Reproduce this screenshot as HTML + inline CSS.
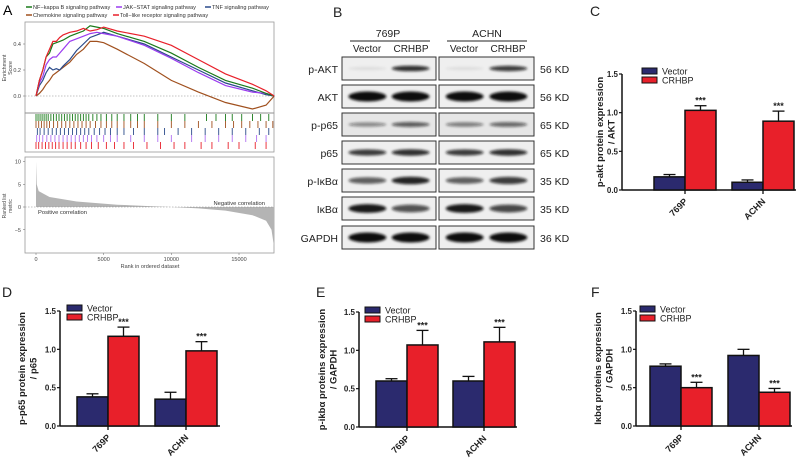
<!DOCTYPE html>
<html><head><meta charset="utf-8"><style>
html,body{margin:0;padding:0;background:#fff;}
svg{display:block;font-family:"Liberation Sans",Arial,sans-serif;}
</style></head><body>
<svg id="fig" width="796" height="463" viewBox="0 0 796 463" xmlns="http://www.w3.org/2000/svg">
<defs><filter id="blur" x="-20%" y="-100%" width="140%" height="300%"><feGaussianBlur stdDeviation="1.2"/></filter></defs>
<g id="panelA"></g>
<g id="panelB"></g>
<g id="bars"></g>
</svg>
<script>
// ---------- Panel A data ----------
const esRanks = [0,250,500,750,1000,1250,1500,1750,2000,2500,3000,3500,4000,4500,5000,6000,8000,10000,12000,14000,16000,17000,17600];
const esNFkB = [0,0.12,0.2,0.3,0.33,0.4,0.41,0.42,0.43,0.46,0.48,0.5,0.54,0.53,0.52,0.48,0.42,0.33,0.22,0.12,0.06,0.02,0];
const esChemokine = [0,0.02,0.05,0.09,0.12,0.16,0.18,0.2,0.22,0.26,0.32,0.36,0.42,0.42,0.41,0.36,0.25,0.12,0.03,-0.05,-0.1,-0.07,0];
const esTNF = [0,0.08,0.12,0.18,0.22,0.2,0.21,0.2,0.23,0.28,0.35,0.4,0.45,0.47,0.49,0.46,0.4,0.3,0.2,0.1,0.04,0.01,0];
const esJAK = [0,0.1,0.15,0.24,0.28,0.3,0.3,0.33,0.36,0.42,0.44,0.46,0.48,0.49,0.48,0.46,0.39,0.29,0.18,0.08,0.03,0.02,0];
const esToll = [0,0.12,0.2,0.3,0.36,0.42,0.42,0.45,0.47,0.49,0.5,0.52,0.5,0.51,0.53,0.5,0.46,0.39,0.28,0.17,0.09,0.04,0];
const hitsNFkB = [0,150,300,450,600,750,900,1100,1300,1500,1700,1900,2100,2300,2500,2700,2900,3100,3300,3500,3700,3900,4200,4500,4800,5200,5600,6000,6500,7000,7500,8000,9000,10000,11000,12600,13300,14000,14500,15200,16000,16600,17200];
const hitsChemokine = [0,200,400,600,800,1000,1300,1600,1900,2200,2500,2800,3100,3400,3700,4000,4400,4800,5200,5600,6000,6500,7000,7500,8000,9000,10000,11000,12000,13000,14000,14600,15200,15800,16400,17000,17500];
const hitsTNF = [100,300,600,900,1200,1500,1800,2100,2400,2700,3000,3300,3600,3900,4300,4700,5100,5500,6000,6500,7200,8000,9000,9500,10500,11500,12500,13500,14500,15500,16500,17200];
const hitsJAK = [50,250,500,800,1100,1400,1700,2000,2300,2600,2900,3200,3500,3800,4100,4500,5000,5500,6000,7000,8000,9000,10000,11500,12500,13500,14500,15500,16300,17000];
const hitsToll = [0,200,450,700,950,1200,1450,1700,2000,2300,2600,2900,3300,3700,4100,4600,5200,5800,6500,7200,8200,9200,10200,11000,12200,13000,14200,15000,16200,17000];
const rankX = [0,50,200,1000,3000,6000,9000,10000,12000,14000,16000,17000,17400,17600];
const rankMetric = [10,5,3.5,2.2,1.2,0.5,0.1,0,-0.3,-0.8,-1.8,-3,-5,-9];
const esTicks = [0.0,0.2,0.4];
const metricTicks = [-5,0,5,10];
const rankTicks = [0,5000,10000,15000];

// ---------- Bar data ----------
const groups = ["769P","ACHN"];
const yTicks = [0.0,0.5,1.0,1.5];
const cVector=[0.17,0.10], cVectorErr=[0.03,0.03], cCRHBP=[1.03,0.89], cCRHBPErr=[0.06,0.13];
const dVector=[0.38,0.35], dVectorErr=[0.04,0.09], dCRHBP=[1.17,0.98], dCRHBPErr=[0.12,0.12];
const eVector=[0.60,0.60], eVectorErr=[0.03,0.06], eCRHBP=[1.07,1.11], eCRHBPErr=[0.19,0.19];
const fVector=[0.78,0.92], fVectorErr=[0.03,0.08], fCRHBP=[0.50,0.44], fCRHBPErr=[0.07,0.05];

const NS="http://www.w3.org/2000/svg";
function mk(tag,attrs,parent,text){const e=document.createElementNS(NS,tag);for(const k in attrs)e.setAttribute(k,attrs[k]);if(text!==undefined)e.textContent=text;parent.appendChild(e);return e;}

// ---------- Panel A ----------
(function(){
const g=document.getElementById('panelA');
const xR=r=>36+r*(203/15000);
const yE=v=>96-v*130;
const yM=v=>207-v*4.55;
let t=mk('text',{x:3,y:15,'font-size':14},g,'A');

const leg=[["NF−kappa B signaling pathway","#1a7a1a",33,9],["JAK−STAT signaling pathway","#9b3cf0",123,9],["TNF signaling pathway","#2a4a8a",212,9],["Chemokine signaling pathway","#a0501e",33,17],["Toll−like receptor signaling pathway","#e8202a",120,17]];
leg.forEach(l=>{const lg=mk('g',{},g);
mk('line',{x1:l[2]-7,x2:l[2]-1,y1:l[3]-2,y2:l[3]-2,stroke:l[1],'stroke-width':1.5},lg);
mk('text',{x:l[2],y:l[3],'font-size':5.6,fill:'#333'},lg,l[0]);});
let b=mk('rect',{x:25,y:22,width:249,height:91,fill:'none',stroke:'#999','stroke-width':0.8},g);

mk('line',{x1:25,x2:274,y1:yE(0),y2:yE(0),stroke:'#888','stroke-dasharray':'1.5,1.5','stroke-width':0.6},g);
esTicks.forEach(v=>{mk('text',{x:21,y:yE(v)+2,'font-size':5.5,'text-anchor':'end',fill:'#444'},g,v.toFixed(1));mk('line',{x1:23,x2:25,y1:yE(v),y2:yE(v),stroke:'#666','stroke-width':0.5},g);});
t=mk('text',{transform:'translate(6,68) rotate(-90)','font-size':5.3,'text-anchor':'middle',fill:'#444'},g,'Enrichment');
mk('text',{transform:'translate(12,68) rotate(-90)','font-size':5.3,'text-anchor':'middle',fill:'#444'},g,'Score');
const series=[[esChemokine,'#a0501e','es-line-chemokine'],[esTNF,'#2a4a8a','es-line-tnf'],[esJAK,'#9b3cf0','es-line-jak-stat'],[esNFkB,'#1a7a1a','es-line-nfkb'],[esToll,'#e8202a','es-line-toll']];
series.forEach(s=>{const p=esRanks.map((r,i)=>(i?'L':'M')+xR(r).toFixed(1)+','+yE(s[0][i]).toFixed(1)).join('');
const e=mk('path',{d:p,fill:'none',stroke:s[1],'stroke-width':1.2},g);});
mk('line',{x1:25,x2:274,y1:113,y2:113,stroke:'#555','stroke-width':0.8},g);
mk('rect',{x:25,y:113,width:249,height:39,fill:'none',stroke:'#999','stroke-width':0.8},g);
const hits=[[hitsNFkB,'#1a7a1a',114],[hitsChemokine,'#a0501e',121],[hitsTNF,'#2a4a8a',128],[hitsJAK,'#b070f0',135],[hitsToll,'#e8202a',142]];
hits.forEach(h=>{const hg=mk('g',{},g);
h[0].forEach(r=>{mk('line',{x1:xR(r),x2:xR(r),y1:h[2],y2:h[2]+7,stroke:h[1],'stroke-width':0.9},hg);});});
b=mk('rect',{x:25,y:157,width:249,height:96,fill:'none',stroke:'#999','stroke-width':0.8},g);

let ap='M'+xR(0)+','+yM(0);rankX.forEach((r,i)=>{ap+='L'+xR(r).toFixed(1)+','+yM(rankMetric[i]).toFixed(1);});ap+='L'+xR(17600)+','+yM(0)+'Z';
const area=mk('path',{d:ap,fill:'#b4b4b4',stroke:'none'},g);
mk('line',{x1:25,x2:274,y1:yM(0),y2:yM(0),stroke:'#888','stroke-dasharray':'1.5,1.5','stroke-width':0.6},g);
metricTicks.forEach(v=>{mk('text',{x:21,y:yM(v)+2,'font-size':5.5,'text-anchor':'end',fill:'#444'},g,String(v).replace('-','−'));mk('line',{x1:23,x2:25,y1:yM(v),y2:yM(v),stroke:'#666','stroke-width':0.5},g);});
rankTicks.forEach(v=>{mk('text',{x:xR(v),y:261,'font-size':5.5,'text-anchor':'middle',fill:'#444'},g,String(v));mk('line',{x1:xR(v),x2:xR(v),y1:253,y2:255,stroke:'#666','stroke-width':0.5},g);});
t=mk('text',{x:150,y:268,'font-size':5.5,'text-anchor':'middle',fill:'#444'},g,'Rank in ordered dataset');
mk('text',{transform:'translate(6,206) rotate(-90)','font-size':5,'text-anchor':'middle',fill:'#444'},g,'Ranked list');
mk('text',{transform:'translate(12,206) rotate(-90)','font-size':5,'text-anchor':'middle',fill:'#444'},g,'metric');
mk('text',{x:38,y:214,'font-size':5.8,fill:'#333'},g,'Positive correlation');
mk('text',{x:265,y:205,'font-size':5.8,fill:'#333','text-anchor':'end'},g,'Negative correlation');
})();

// ---------- Panel B ----------
(function(){
const g=document.getElementById('panelB');
const tx=(x,y,s,txt,anc,name)=>{const e=mk('text',{x:x,y:y,'font-size':s,'text-anchor':anc||'middle',fill:'#222'},g,txt);if(name){}return e;};
tx(333,17,14,'B','start','panel-b-label');
tx(388,37,10.5,'769P','middle','cell-line-769p');tx(487,37,10.5,'ACHN','middle','cell-line-achn');
mk('line',{x1:350,x2:430,y1:41,y2:41,stroke:'#222','stroke-width':1},g);
mk('line',{x1:447,x2:527,y1:41,y2:41,stroke:'#222','stroke-width':1},g);
tx(367,52,10,'Vector');tx(411,52,10,'CRHBP');tx(464,52,10,'Vector');tx(508,52,10,'CRHBP');
const rows=[["p-AKT","56 KD",[0.08,0.85,0.08,0.8],3],["AKT","56 KD",[1,1,1,1],5],["p-p65","65 KD",[0.45,0.65,0.5,0.6],3],["p65","65 KD",[0.8,0.85,0.8,0.85],3.5],["p-IκBα","35 KD",[0.65,0.9,0.65,0.8],4],["IκBα","35 KD",[0.95,0.7,0.95,0.75],4.5],["GAPDH","36 KD",[1,1,1,1],5]];
const tops=[57,85,113,141,169,197,226];
rows.forEach((r,i)=>{const y=tops[i];const rg=mk('g',{},g);
mk('text',{x:338,y:y+16,'font-size':10.5,'text-anchor':'end',fill:'#222'},rg,r[0]);
mk('text',{x:540,y:y+16,'font-size':10.5,'text-anchor':'start',fill:'#222'},rg,r[1]);
[[342,94],[439,95]].forEach((bx,j)=>{mk('rect',{x:bx[0],y:y,width:bx[1],height:23,fill:i==2?'#e6e6e6':'#efefef',stroke:'#333','stroke-width':1},rg);
[0,1].forEach(k=>{const d=r[2][j*2+k];const cx=bx[0]+bx[1]*(k?0.73:0.27);
mk('ellipse',{cx:cx,cy:y+11.5,rx:19,ry:r[3]*(0.5+0.5*d),fill:'#111','fill-opacity':d,filter:'url(#blur)'},rg);});});});
})();

// ---------- Bar charts ----------
function barChart(cfg){
const g=mk('g',{},document.getElementById('bars'));


const y=v=>cfg.y0-(cfg.y0-cfg.y15)*v/1.5;
let t=mk('text',{x:cfg.lx,y:cfg.ly,'font-size':14,fill:'#222'},g,cfg.letter);

mk('line',{x1:cfg.ax,x2:cfg.ax,y1:cfg.y15,y2:cfg.y0,stroke:'#111','stroke-width':1.5},g);
mk('line',{x1:cfg.ax,x2:cfg.xEnd,y1:cfg.y0,y2:cfg.y0,stroke:'#111','stroke-width':1.5},g);
yTicks.forEach(v=>{mk('line',{x1:cfg.ax-3,x2:cfg.ax,y1:y(v),y2:y(v),stroke:'#111','stroke-width':1.2},g);
const e=mk('text',{x:cfg.ax-4,y:y(v)+3,'font-size':8,'font-weight':'bold','text-anchor':'end',fill:'#222'},g,v.toFixed(1));});
const tt=mk('text',{transform:`translate(${cfg.tx},${(cfg.y0+cfg.y15)/2}) rotate(-90)`,'font-size':9.5,'font-weight':'bold','text-anchor':'middle',fill:'#222'},g);

mk('tspan',{x:0,dy:0},tt,cfg.t1);mk('tspan',{x:0,dy:11.5},tt,cfg.t2);
const w=31;
groups.forEach((gr,i)=>{const c=cfg.centers[i];
[[cfg.vec,cfg.vecErr,c-w,'#2b2a6e','bar-vector-'],[cfg.cr,cfg.crErr,c,'#e8202a','bar-crhbp-']].forEach(s=>{
const v=s[0][i],er=s[1][i];
mk('line',{x1:s[2]+w/2,x2:s[2]+w/2,y1:y(v),y2:y(v+er),stroke:'#111','stroke-width':1.3},g);
mk('line',{x1:s[2]+w/2-6,x2:s[2]+w/2+6,y1:y(v+er),y2:y(v+er),stroke:'#111','stroke-width':1.3},g);
const r=mk('rect',{x:s[2],y:y(v),width:w,height:cfg.y0-y(v),fill:s[3],stroke:'#111','stroke-width':1.5},g);
});
const st=mk('text',{x:c+w/2,y:y(cfg.cr[i]+cfg.crErr[i])-2,'font-size':9,'font-weight':'bold','text-anchor':'middle',fill:'#222'},g,'***');
mk('line',{x1:c,x2:c,y1:cfg.y0,y2:cfg.y0+4,stroke:'#111','stroke-width':1.3},g);
const xl=mk('text',{transform:`translate(${c+3},${cfg.y0+12}) rotate(-45)`,'font-size':9,'font-weight':'bold','text-anchor':'end',fill:'#222'},g,gr);
});
[['Vector','#2b2a6e',0],['CRHBP','#e8202a',9]].forEach(l=>{const lg=mk('g',{},g);
mk('rect',{x:cfg.legx,y:cfg.legy+l[2],width:15,height:6,fill:l[1],stroke:'#111','stroke-width':1},lg);
mk('text',{x:cfg.legx+20,y:cfg.legy+l[2]+6.5,'font-size':9,fill:'#222'},lg,l[0]);});
}
barChart({name:'chart-c-pakt',letter:'C',lx:590,ly:16,ax:622,y0:190,y15:74,xEnd:796,centers:[685,763],vec:cVector,vecErr:cVectorErr,cr:cCRHBP,crErr:cCRHBPErr,tx:603,t1:'p-akt protein expression',t2:'/ AKT',legx:642,legy:68});
barChart({name:'chart-d-pp65',letter:'D',lx:2,ly:297,ax:60,y0:426,y15:311,xEnd:220,centers:[108,186],vec:dVector,vecErr:dVectorErr,cr:dCRHBP,crErr:dCRHBPErr,tx:25,t1:'p-p65 protein expression',t2:'/ p65',legx:67,legy:305});
barChart({name:'chart-e-pikba',letter:'E',lx:316,ly:297,ax:359,y0:427,y15:312,xEnd:517,centers:[407,484],vec:eVector,vecErr:eVectorErr,cr:eCRHBP,crErr:eCRHBPErr,tx:325,t1:'p-ikbα proteins expression',t2:'/ GAPDH',legx:365,legy:307});
barChart({name:'chart-f-ikba',letter:'F',lx:591,ly:297,ax:636,y0:426,y15:311,xEnd:792,centers:[681,759],vec:fVector,vecErr:fVectorErr,cr:fCRHBP,crErr:fCRHBPErr,tx:601,t1:'Iκbα proteins expression',t2:'/ GAPDH',legx:640,legy:306});
</script>
</body></html>
